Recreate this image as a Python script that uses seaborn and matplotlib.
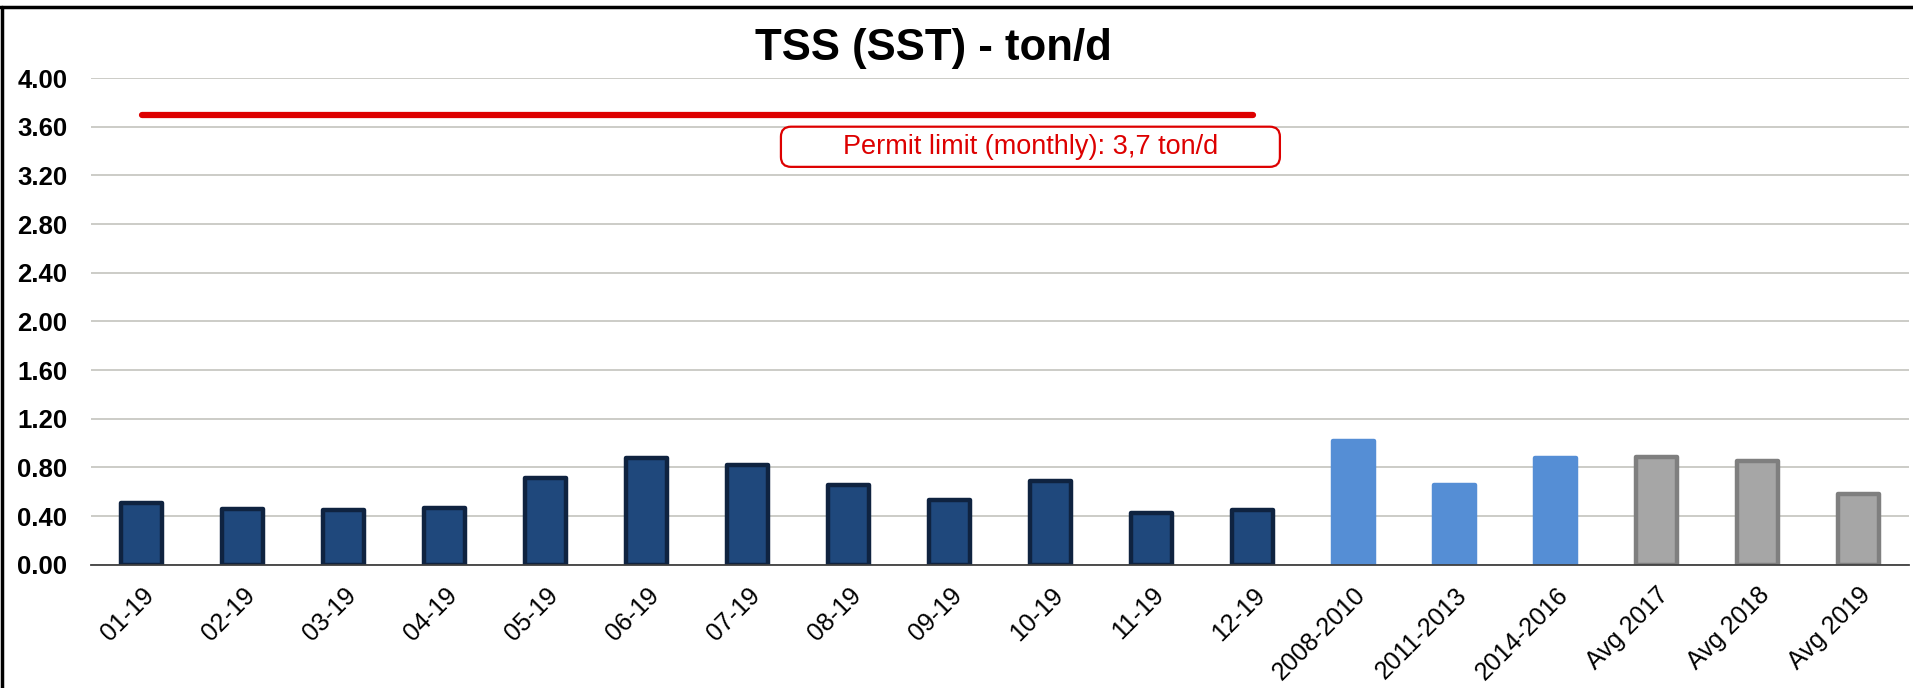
import numpy as np
import pandas as pd
import matplotlib.pyplot as plt
import seaborn as sns
from matplotlib.patches import FancyBboxPatch
from matplotlib.lines import Line2D

# data
labels = ['01-19', '02-19', '03-19', '04-19', '05-19', '06-19', '07-19', '08-19',
          '09-19', '10-19', '11-19', '12-19', '2008-2010', '2011-2013', '2014-2016',
          'Avg 2017', 'Avg 2018', 'Avg 2019']
values = [0.51, 0.46, 0.45, 0.47, 0.71, 0.88, 0.82, 0.66, 0.53, 0.69, 0.43, 0.45,
          1.02, 0.66, 0.88, 0.89, 0.85, 0.58]
groups = ['month'] * 12 + ['period'] * 3 + ['avg'] * 3
yticks = [0.0, 0.4, 0.8, 1.2, 1.6, 2.0, 2.4, 2.8, 3.2, 3.6, 4.0]
limit = 3.7
limit_text = 'Permit limit (monthly): 3,7 ton/d'
title = 'TSS (SST) - ton/d'

fill = {'month': '#1F487C', 'period': '#558ED5', 'avg': '#A6A6A6'}
edge = {'month': '#0F2340', 'period': '#558ED5', 'avg': '#7F7F7F'}

sns.set_style('white')
plt.rcParams['font.family'] = ['Liberation Sans', 'DejaVu Sans']
plt.rcParams['text.color'] = 'black'
plt.rcParams['xtick.color'] = 'black'
plt.rcParams['ytick.color'] = 'black'

df = pd.DataFrame({'label': labels, 'value': values, 'group': groups})
n_months = groups.count('month')

fig = plt.figure(figsize=(19.13, 6.88), dpi=100)
ax = fig.add_axes([0.0476, 0.179, 0.9504, 0.7076])

sns.barplot(data=df, x='label', y='value', hue='group', palette=fill,
            dodge=False, width=0.40, legend=False, saturation=1, ax=ax)

for p in ax.patches:
    i = int(round(p.get_x() + p.get_width() / 2))
    p.set_edgecolor(edge[groups[i]])
    p.set_linewidth(3.2)
    p.set_joinstyle('round')

# permit limit line + label
ax.plot([0, n_months - 1], [limit, limit], color='#DD0000', lw=4.5,
        solid_capstyle='round', zorder=4)
tx, ty = 8.8, 3.435
box = FancyBboxPatch((tx - 2.47, ty - 0.165), 4.94, 0.33,
                     boxstyle='round,pad=0,rounding_size=0.1', mutation_aspect=0.82,
                     fc='white', ec='#DD0000', lw=1.6, zorder=5)
ax.add_patch(box)
ax.text(tx, ty, limit_text, color='#DD0000', fontsize=19.5, ha='center', va='center', zorder=6)

ax.set_xlim(-0.5, len(labels) - 0.5)
ax.set_ylim(0, 4)
ax.set_yticks(yticks)
ax.set_yticklabels([f'{v:.2f}' for v in yticks], fontsize=18.5, fontweight='bold')
ax.yaxis.grid(True, color='#BFBFB8', lw=1.1)
ax.set_axisbelow(True)
ax.tick_params(axis='y', length=0, pad=17)

ax.set_xticks(np.arange(len(labels)))
ax.set_xticks(np.arange(len(labels) + 1) - 0.5, minor=True)
ax.tick_params(axis='x', which='major', length=0, pad=13, labelsize=18)
ax.tick_params(axis='x', which='minor', length=6, width=1.2, color='#404040', direction='out')
plt.setp(ax.get_xticklabels(), rotation=45, ha='right', rotation_mode='anchor')
ax.set_xlabel('')
ax.set_ylabel('')

for s in ['left', 'right', 'top']:
    ax.spines[s].set_visible(False)
ax.spines['bottom'].set_color('#404040')
ax.spines['bottom'].set_linewidth(1.3)

fig.text(0.488, 0.929, title, fontsize=31.5, fontweight='bold', ha='center', va='center')

# frame on the left and top of the image
fig.add_artist(Line2D([0.001, 0.001], [0, 0.99], transform=fig.transFigure, color='black', lw=2.5))
fig.add_artist(Line2D([0, 1], [0.99, 0.99], transform=fig.transFigure, color='black', lw=2.5))

fig.savefig('out.png', dpi=100, facecolor='white')
